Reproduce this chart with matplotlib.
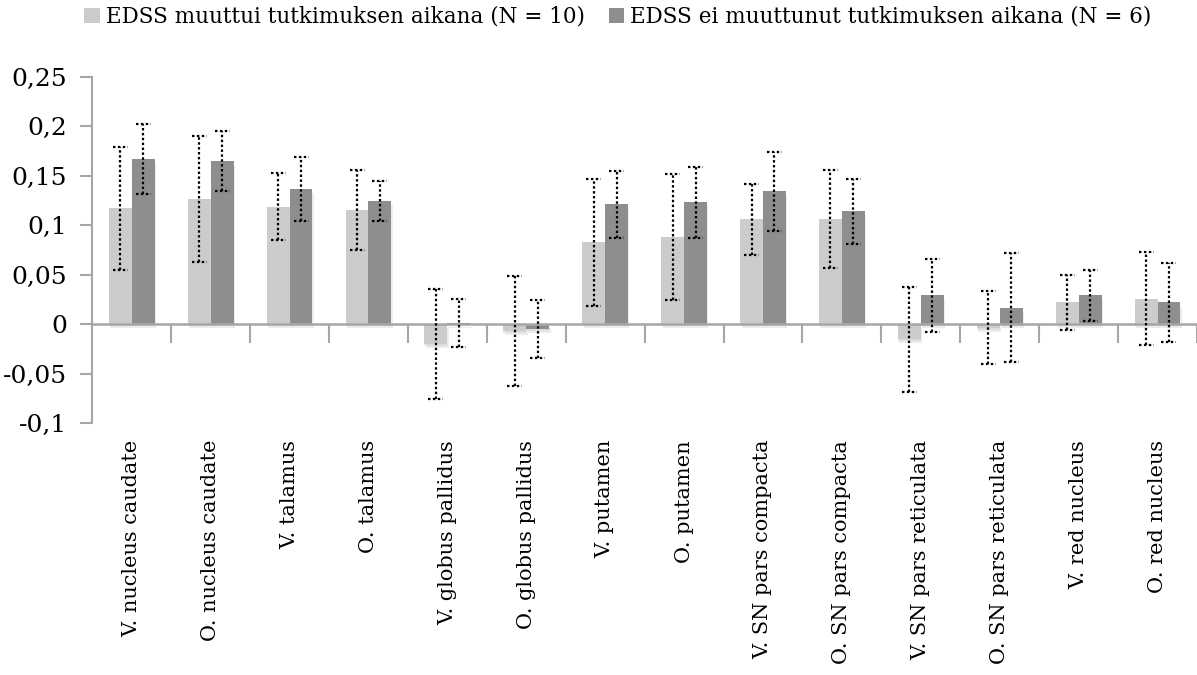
import matplotlib
matplotlib.use("Agg")
import matplotlib.pyplot as plt
import matplotlib.patheffects as pe
from matplotlib.patches import Patch
import numpy as np

# Regions of interest
regions = [
    "V. nucleus caudate", "O. nucleus caudate", "V. talamus", "O. talamus",
    "V. globus pallidus", "O. globus pallidus", "V. putamen", "O. putamen",
    "V. SN pars compacta", "O. SN pars compacta", "V. SN pars reticulata",
    "O. SN pars reticulata", "V. red nucleus", "O. red nucleus",
]

# Group with EDSS change (N = 10): mean and error
changed_mean = [0.117, 0.1265, 0.1188, 0.1154, -0.020, -0.0066, 0.0826,
                0.0885, 0.106, 0.1063, -0.015, -0.0035, 0.022, 0.026]
changed_err = [0.062, 0.064, 0.0338, 0.0402, 0.0557, 0.0557, 0.0641,
               0.0636, 0.036, 0.0498, 0.053, 0.0369, 0.0278, 0.0466]

# Group without EDSS change (N = 6): mean and error
stable_mean = [0.1666, 0.1645, 0.1363, 0.1245, 0.0013, -0.0047, 0.1211,
               0.1232, 0.1343, 0.1141, 0.0293, 0.0167, 0.0295, 0.022]
stable_err = [0.0352, 0.0303, 0.0322, 0.0202, 0.0243, 0.029, 0.034,
              0.0357, 0.0399, 0.0328, 0.0369, 0.0549, 0.0258, 0.040]

series_labels = ["EDSS muuttui tutkimuksen aikana (N = 10)",
                 "EDSS ei muuttunut tutkimuksen aikana (N = 6)"]

y_ticks = [-0.1, -0.05, 0, 0.05, 0.1, 0.15, 0.2, 0.25]
y_tick_labels = ["-0,1", "-0,05", "0", "0,05", "0,1", "0,15", "0,2", "0,25"]

FONT = "DejaVu Serif"
LIGHT = "#cccccc"
DARK = "#8e8e8e"
AXIS = "#a6a6a6"

plt.rcParams["font.family"] = [FONT]

fig = plt.figure(figsize=(11.97, 6.75), dpi=100)
ax = fig.add_axes([92.3 / 1197, 1 - 423.3 / 675, (1197 - 92.3) / 1197,
                   (423.3 - 76.7) / 675])

n = len(regions)
centers = np.arange(n) + 0.5
bw = 0.29

shadow = [pe.SimplePatchShadow(offset=(1, -3), shadow_rgbFace="#999999", alpha=0.18),
          pe.SimplePatchShadow(offset=(0, -1.5), shadow_rgbFace="#999999", alpha=0.18),
          pe.Normal()]

x_light = centers - bw / 2
x_dark = centers + bw / 2
for xs, vals, col in [(x_light, changed_mean, LIGHT), (x_dark, stable_mean, DARK)]:
    bars = ax.bar(xs, vals, width=bw, color=col, zorder=2)
    for b in bars:
        b.set_path_effects(shadow)

# Dotted error bars with dotted caps
cap = 0.095
dot = (0, (1.1, 1.1))
for xs, vals, errs in [(x_light, changed_mean, changed_err),
                       (x_dark, stable_mean, stable_err)]:
    vals = np.asarray(vals)
    errs = np.asarray(errs)
    lo, hi = vals - errs, vals + errs
    ax.vlines(xs, lo, hi, colors="black", linestyles=[dot], linewidth=1.6, zorder=4)
    ax.hlines(hi, xs - cap, xs + cap, colors="black", linestyles=[dot], linewidth=1.6, zorder=4)
    ax.hlines(lo, xs - cap, xs + cap, colors="black", linestyles=[dot], linewidth=1.6, zorder=4)

ax.set_xlim(0, n)
ax.set_ylim(-0.1, 0.25)

# Axis styling: left spine plus a category axis crossing at zero
for s in ["top", "right", "bottom"]:
    ax.spines[s].set_visible(False)
ax.spines["left"].set_color(AXIS)
ax.spines["left"].set_linewidth(1.5)
ax.set_yticks(y_ticks)
ax.set_yticklabels(y_tick_labels, fontsize=18)
ax.tick_params(axis="y", length=9, width=1.5, color=AXIS, pad=9)

ax.axhline(0, color=AXIS, linewidth=1.8, zorder=3)
ax.set_xticks([])
boundaries = np.arange(1, n + 1)
ax.vlines(boundaries, -0.0185, 0, colors=AXIS, linewidth=1.5, zorder=3)

for c, lab in zip(centers, regions):
    ax.annotate(lab, xy=(c, 0), xycoords=("data", "axes fraction"),
                xytext=(0, -12), textcoords="offset points",
                rotation=90, ha="center", va="top", fontsize=15)

handles = [Patch(facecolor=LIGHT, edgecolor="none"),
           Patch(facecolor=DARK, edgecolor="none")]
fig.legend(handles, series_labels, loc="center", bbox_to_anchor=(618 / 1197, 1 - 17 / 675),
           ncol=2, frameon=False, fontsize=15.5, handlelength=0.7, handleheight=0.7,
           handletextpad=0.3, columnspacing=1.1, borderaxespad=0)

fig.savefig("out.png", dpi=100)
